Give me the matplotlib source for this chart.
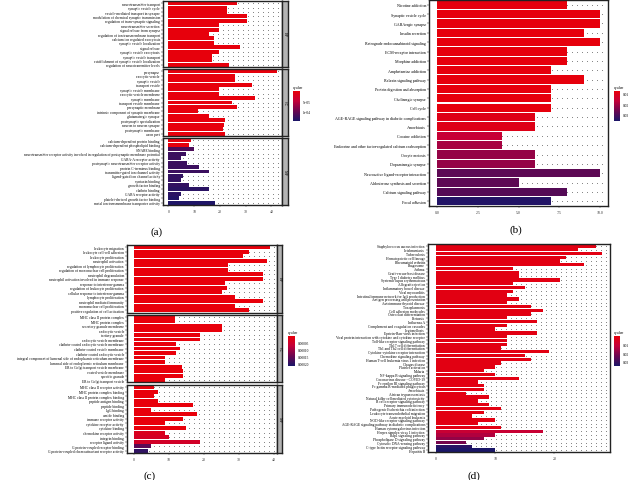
import numpy as np
import matplotlib
matplotlib.use('Agg')
import matplotlib.pyplot as plt
from matplotlib.colors import LinearSegmentedColormap, Normalize
from matplotlib.cm import ScalarMappable

plt.rcParams['font.family'] = ['Liberation Serif', 'DejaVu Serif']

# ---------------- data ----------------
# (a) GO enrichment, faceted BP / CC / MF
a_bp_terms = ['neurotransmitter transport', 'synaptic vesicle cycle', 'vesicle-mediated transport in synapse',
              'modulation of chemical synaptic transmission', 'regulation of trans-synaptic signaling',
              'neurotransmitter secretion', 'signal release from synapse',
              'regulation of ion transmembrane transport', 'calcium ion regulated exocytosis',
              'synaptic vesicle localization', 'signal release', 'synaptic vesicle exocytosis',
              'synaptic vesicle transport', 'establishment of synaptic vesicle localization',
              'regulation of neurotransmitter levels']
a_bp_count = [26.7, 22.8, 22.8, 30.5, 30.5, 19.6, 19.6, 15.8, 17.7, 17.7, 27.9, 19.6, 17.0, 17.0, 23.5]
a_bp_q = [2e-6] * 15

a_cc_terms = ['presynapse', 'exocytic vesicle', 'synaptic vesicle', 'transport vesicle',
              'synaptic vesicle membrane', 'exocytic vesicle membrane', 'synaptic membrane',
              'transport vesicle membrane', 'presynaptic membrane', 'intrinsic component of synaptic membrane',
              'glutamatergic synapse', 'postsynaptic specialization', 'neuron to neuron synapse',
              'postsynaptic membrane', 'axon part']
a_cc_count = [42.0, 26.0, 26.0, 32.4, 19.6, 19.6, 33.7, 24.7, 26.7, 11.3, 15.8, 22.0, 21.5, 21.0, 22.0]
a_cc_q = [2e-6] * 15

a_mf_terms = ['calcium-dependent protein binding', 'calcium-dependent phospholipid binding', 'SNARE binding',
              'neurotransmitter receptor activity involved in regulation of postsynaptic membrane potential',
              'GABA-A receptor activity', 'postsynaptic neurotransmitter receptor activity',
              'protein C-terminus binding', 'transmitter-gated ion channel activity',
              'ligand-gated ion channel activity', 'syntaxin binding', 'growth factor binding',
              'clathrin binding', 'GABA receptor activity', 'platelet-derived growth factor binding',
              'metal ion transmembrane transporter activity']
a_mf_count = [8.7, 8.1, 10.0, 6.8, 4.8, 7.4, 11.9, 15.8, 5.5, 4.8, 8.1, 15.8, 4.8, 4.2, 18.2]
a_mf_q = [3e-6, 3e-6, 1.15e-4, 1.25e-4, 1.25e-4, 1.25e-4, 1.25e-4, 1.25e-4, 1.3e-4, 1.3e-4,
          1.3e-4, 1.35e-4, 1.35e-4, 1.4e-4, 1.42e-4]
a_ticks = [5e-5, 1e-4]
a_ticklabels = ['5e-05', '1e-04']

# (b) KEGG
b_terms = ['Nicotine addiction', 'Synaptic vesicle cycle', 'GABAergic synapse', 'Insulin secretion',
           'Retrograde endocannabinoid signaling', 'ECM-receptor interaction', 'Morphine addiction',
           'Amphetamine addiction', 'Relaxin signaling pathway', 'Protein digestion and absorption',
           'Cholinergic synapse', 'Cell cycle', 'AGE-RAGE signaling pathway in diabetic complications',
           'Amoebiasis', 'Cocaine addiction', 'Endocrine and other factor-regulated calcium reabsorption',
           'Oocyte meiosis', 'Dopaminergic synapse', 'Neuroactive ligand-receptor interaction',
           'Aldosterone synthesis and secretion', 'Calcium signaling pathway', 'Focal adhesion']
b_count = [8, 10, 10, 9, 10, 8, 8, 7, 9, 7, 7, 7, 6, 6, 4, 4, 6, 6, 10, 5, 8, 7]
b_q = [0.008] * 12 + [0.010, 0.010, 0.016, 0.020, 0.022, 0.022, 0.028, 0.028, 0.029, 0.035]
b_ticks = [0.01, 0.02, 0.03]
b_ticklabels = ['0.01', '0.02', '0.03']

# (c) GO enrichment, faceted BP / CC / MF
c_bp_terms = ['leukocyte migration', 'leukocyte cell-cell adhesion', 'leukocyte proliferation',
              'neutrophil activation', 'regulation of lymphocyte proliferation',
              'regulation of mononuclear cell proliferation', 'neutrophil degranulation',
              'neutrophil activation involved in immune response', 'response to interferon-gamma',
              'regulation of leukocyte proliferation', 'cellular response to interferon-gamma',
              'lymphocyte proliferation', 'neutrophil mediated immunity', 'mononuclear cell proliferation',
              'positive regulation of cell activation']
c_bp_count = [39.0, 33.1, 31.4, 38.0, 27.1, 27.1, 37.1, 37.1, 26.2, 26.7, 25.2, 29.0, 37.1, 29.0, 32.9]
c_bp_q = [1e-6] * 15

c_cc_terms = ['MHC class II protein complex', 'MHC protein complex', 'secretory granule membrane',
              'endocytic vesicle', 'tertiary granule', 'endocytic vesicle membrane',
              'clathrin-coated endocytic vesicle membrane', 'clathrin-coated vesicle membrane',
              'clathrin-coated endocytic vesicle',
              'integral component of lumenal side of endoplasmic reticulum membrane',
              'lumenal side of endoplasmic reticulum membrane', 'ER to Golgi transport vesicle membrane',
              'coated vesicle membrane', 'specific granule', 'ER to Golgi transport vesicle']
c_cc_count = [11.9, 11.9, 25.2, 25.2, 19.0, 19.0, 12.2, 13.1, 12.2, 9.0, 9.0, 13.8, 14.1, 14.1, 9.0]
c_cc_q = [1e-6] * 15

c_mf_terms = ['MHC class II receptor activity', 'MHC protein complex binding',
              'MHC class II protein complex binding', 'peptide antigen binding', 'peptide binding',
              'IgG binding', 'amide binding', 'immune receptor activity', 'cytokine receptor activity',
              'cytokine binding', 'chemokine receptor activity', 'integrin binding',
              'receptor ligand activity', 'G protein-coupled receptor binding',
              'G protein-coupled chemoattractant receptor activity']
c_mf_count = [5.9, 6.9, 5.9, 6.9, 16.9, 5.0, 18.1, 14.1, 9.0, 15.0, 9.0, 10.0, 19.0, 5.0, 4.0]
c_mf_q = [1e-6] * 10 + [3.0e-5, 4.0e-5, 4.5e-5, 1.6e-4, 2.0e-4]
c_ticks = [5e-5, 1e-4, 1.5e-4, 2e-4]
c_ticklabels = ['0.00005', '0.00010', '0.00015', '0.00020']

# (d) KEGG
d_terms = ['Staphylococcus aureus infection', 'Leishmaniasis', 'Tuberculosis', 'Hematopoietic cell lineage',
           'Rheumatoid arthritis', 'Phagosome', 'Asthma', 'Graft-versus-host disease',
           'Type I diabetes mellitus', 'Systemic lupus erythematosus', 'Allograft rejection',
           'Inflammatory bowel disease', 'Viral myocarditis', 'Intestinal immune network for IgA production',
           'Antigen processing and presentation', 'Autoimmune thyroid disease', 'Toxoplasmosis',
           'Cell adhesion molecules', 'Osteoclast differentiation', 'Pertussis', 'Influenza A',
           'Complement and coagulation cascades', 'Legionellosis', 'Epstein-Barr virus infection',
           'Viral protein interaction with cytokine and cytokine receptor',
           'Toll-like receptor signaling pathway', 'Th17 cell differentiation',
           'Th1 and Th2 cell differentiation', 'Cytokine-cytokine receptor interaction',
           'Chemokine signaling pathway', 'Human T-cell leukemia virus 1 infection', 'Chagas disease',
           'Platelet activation', 'Malaria', 'NF-kappa B signaling pathway',
           'Coronavirus disease - COVID-19', 'Fc epsilon RI signaling pathway',
           'Fc gamma R-mediated phagocytosis', 'Amoebiasis', 'African trypanosomiasis',
           'Natural killer cell mediated cytotoxicity', 'B cell receptor signaling pathway',
           'Primary immunodeficiency', 'Pathogenic Escherichia coli infection',
           'Leukocyte transendothelial migration', 'Acute myeloid leukemia',
           'NOD-like receptor signaling pathway', 'AGE-RAGE signaling pathway in diabetic complications',
           'Human cytomegalovirus infection', 'Herpes simplex virus 1 infection', 'Rap1 signaling pathway',
           'Phospholipase D signaling pathway', 'Cytosolic DNA-sensing pathway',
           'C-type lectin receptor signaling pathway', 'Hepatitis B']
d_count = [27, 24, 28, 22, 21, 25, 13, 14, 14, 21, 13, 15, 13, 12, 14, 12, 16, 18, 16, 12,
           17, 12, 10, 17, 12, 12, 12, 11, 19, 15, 16, 11, 10, 8, 10, 14,
           7, 8, 8, 5, 9, 7, 9, 11, 8, 6, 10, 7, 11, 18, 10, 8, 5, 6, 10]
d_q = [0.002] * 49 + [0.010, 0.014, 0.018, 0.022, 0.033, 0.035]
d_ticks = [0.01, 0.02, 0.03]
d_ticklabels = ['0.01', '0.02', '0.03']

# ---------------- drawing ----------------
W, H = 630, 481
fig = plt.figure(figsize=(W / 100, H / 100), dpi=100)
cmap = LinearSegmentedColormap.from_list('q', ['#E8000A', '#C3003A', '#6A0650', '#1A1668'])


def px_axes(x0, y0, x1, y1):
    return fig.add_axes([x0 / W, 1 - y1 / H, (x1 - x0) / W, (y1 - y0) / H])


def bar_panel(ax, terms, counts, qv, norm, xlim, fs, width_px, show_x, xticks=None, xfmt=None):
    n = len(terms)
    y = np.arange(n)
    # faint dot texture behind the bars
    step = (xlim[1] - xlim[0]) * 5.0 / width_px
    gx = np.arange(0, xlim[1] - step * 0.5, step)
    XX, YY = np.meshgrid(gx, y)
    ax.scatter(XX.ravel(), YY.ravel(), s=0.3, color='#555555', linewidths=0, zorder=1)
    ax.barh(y, counts, height=0.88, color=cmap(norm(np.array(qv))), zorder=2)
    ax.set_xlim(*xlim)
    ax.set_ylim(n - 0.5, -0.5)
    ax.set_yticks(y)
    ax.set_yticklabels(terms, fontsize=fs)
    ax.tick_params(axis='y', length=1.2, width=0.3, pad=1)
    if xticks is not None:
        ax.set_xticks(xticks)
    if show_x:
        if xfmt is not None:
            ax.set_xticklabels([xfmt.format(t) for t in xticks])
        ax.tick_params(axis='x', length=1.5, width=0.3, pad=1.5, labelsize=2.8, colors='#333333')
    else:
        ax.tick_params(axis='x', length=0, labelbottom=False)
    for s in ax.spines.values():
        s.set_linewidth(1.0)
        s.set_color('#222222')


def strip(x0, x1, y0, y1, text):
    sa = px_axes(x0, y0, x1, y1)
    sa.set_facecolor('#B3B3B3')
    sa.set_xticks([])
    sa.set_yticks([])
    for s in sa.spines.values():
        s.set_linewidth(1.0)
        s.set_color('#222222')
    sa.text(0.5, 0.5, text, rotation=-90, ha='center', va='center', fontsize=3, transform=sa.transAxes)


def legend_bar(x0, x1, y0, y1, norm, ticks, ticklabels):
    la = px_axes(x0, y0, x1, y1)
    cb = fig.colorbar(ScalarMappable(norm=norm, cmap=cmap), cax=la)
    cb.outline.set_visible(False)
    la.invert_yaxis()
    cb.set_ticks(ticks)
    cb.set_ticklabels(ticklabels)
    la.tick_params(labelsize=2.5, length=1.0, width=0.3, pad=0.8, color='white')
    fig.text(x0 / W, 1 - (y0 - 2) / H, 'qvalue', fontsize=2.8, ha='left', va='bottom')


# panel (a)
norm_a = Normalize(0, 1.45e-4)
a_xlim = (-2.1, 44.1)
a_rows = [(2, 68, a_bp_terms, a_bp_count, a_bp_q, 'BP'),
          (70, 137, a_cc_terms, a_cc_count, a_cc_q, 'CC'),
          (139, 206, a_mf_terms, a_mf_count, a_mf_q, 'MF')]
for i, (y0, y1, t, c, q, lab) in enumerate(a_rows):
    ax = px_axes(163, y0, 282, y1)
    bar_panel(ax, t, c, q, norm_a, a_xlim, 2.6, 119, i == 2, xticks=[0, 10, 20, 30, 40])
    strip(282, 288, y0, y1, lab)
legend_bar(293, 300, 92, 122, norm_a, a_ticks, a_ticklabels)
fig.text(157 / W, 1 - 232 / H, '(a)', fontsize=8, ha='center', va='center')

# panel (b)
norm_b = Normalize(0.0075, 0.036)
ax = px_axes(429, 1, 608, 207)
bar_panel(ax, b_terms, b_count, b_q, norm_b, (-0.5, 10.5), 2.9, 179, True,
          xticks=[0, 2.5, 5, 7.5, 10], xfmt='{:.1f}')
legend_bar(614, 620, 92, 122, norm_b, b_ticks, b_ticklabels)
fig.text(516 / W, 1 - 230 / H, '(b)', fontsize=8, ha='center', va='center')

# panel (c)
norm_c = Normalize(0, 2.2e-4)
c_xlim = (-1.95, 41.0)
c_rows = [(246, 313.5, c_bp_terms, c_bp_count, c_bp_q, 'BP'),
          (315.7, 383.3, c_cc_terms, c_cc_count, c_cc_q, 'CC'),
          (385.7, 454, c_mf_terms, c_mf_count, c_mf_q, 'MF')]
for i, (y0, y1, t, c, q, lab) in enumerate(c_rows):
    ax = px_axes(127, y0, 277, y1)
    bar_panel(ax, t, c, q, norm_c, c_xlim, 2.6, 150, i == 2, xticks=[0, 10, 20, 30, 40])
    strip(277, 282, y0, y1, lab)
legend_bar(288, 295, 337, 367, norm_c, c_ticks, c_ticklabels)
fig.text(150 / W, 1 - 476 / H, '(c)', fontsize=8, ha='center', va='center')

# panel (d)
norm_d = Normalize(0, 0.035)
ax = px_axes(428, 245, 610, 453)
bar_panel(ax, d_terms, d_count, d_q, norm_d, (-1.4, 29.4), 2.6, 182, True, xticks=[0, 10, 20])
legend_bar(614, 620, 337, 367, norm_d, d_ticks, d_ticklabels)
fig.text(474 / W, 1 - 476 / H, '(d)', fontsize=8, ha='center', va='center')

fig.savefig('out.png', dpi=100)
